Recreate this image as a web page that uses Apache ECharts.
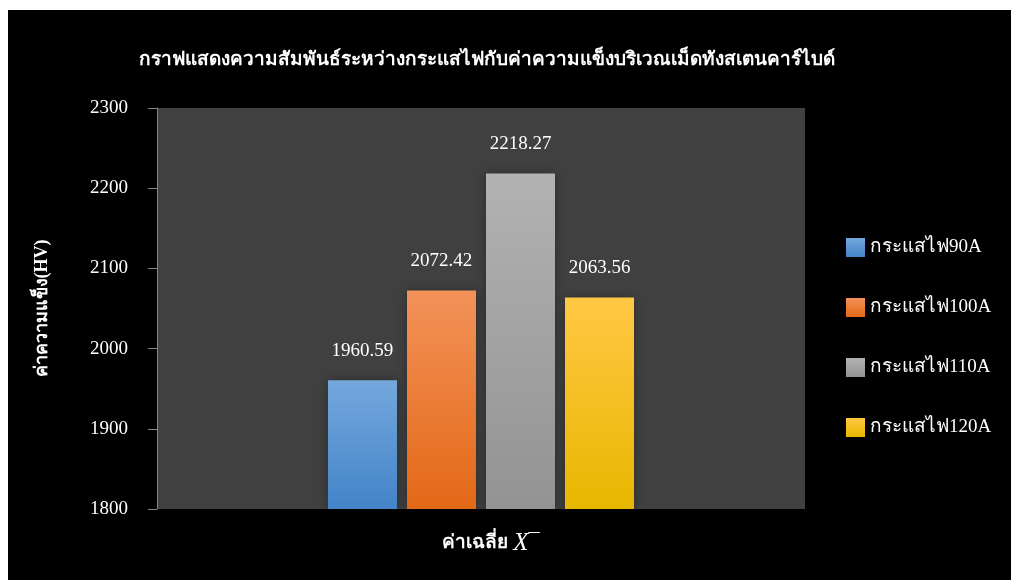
<!DOCTYPE html>
<html>
<head>
<meta charset="utf-8">
<script src="https://cdn.jsdelivr.net/npm/echarts@6/dist/echarts.min.js"></script>
<style>
  html, body { margin: 0; padding: 0; background: #ffffff; }
  #chart { position: absolute; left: 8px; top: 10px; width: 1003px; height: 570px; }
</style>
</head>
<body>
<div id="chart"></div>
<script>
// Average hardness of tungsten carbide grains at each welding current
const categories = ['avg'];
const seriesNames = ['กระแสไฟ90A', 'กระแสไฟ100A', 'กระแสไฟ110A', 'กระแสไฟ120A'];
const hardness = [1960.59, 2072.42, 2218.27, 2063.56];
const yTicks = { min: 1800, max: 2300, interval: 100 };

const gradients = [
  ['#74a8dd', '#4384c8'],
  ['#f39259', '#e36816'],
  ['#b2b2b2', '#939393'],
  ['#ffc844', '#e8b700']
];
const serif = "'Times New Roman', 'Liberation Serif', 'DejaVu Serif', serif";

function grad(c) {
  return new echarts.graphic.LinearGradient(0, 0, 0, 1, [
    { offset: 0, color: c[0] },
    { offset: 1, color: c[1] }
  ]);
}

const series = seriesNames.map((name, i) => ({
  name: name,
  type: 'bar',
  data: [hardness[i]],
  barWidth: 69,
  barGap: '14.5%',
  itemStyle: {
    color: grad(gradients[i]),
    shadowBlur: 10,
    shadowColor: 'rgba(0,0,0,0.35)'
  },
  label: {
    show: true,
    position: 'top',
    distance: 20,
    color: '#ffffff',
    fontFamily: serif,
    fontSize: 19,
    formatter: (p) => p.value.toFixed(2)
  }
}));

const chart = echarts.init(document.getElementById('chart'));
chart.setOption({
  backgroundColor: '#000000',
  animation: false,
  title: {
    text: 'กราฟแสดงความสัมพันธ์ระหว่างกระแสไฟกับค่าความแข็งบริเวณเม็ดทังสเตนคาร์ไบด์',
    left: 474,
    textAlign: 'center',
    top: 36,
    textStyle: { color: '#ffffff', fontFamily: serif, fontWeight: 'bold', fontSize: 19 }
  },
  legend: {
    orient: 'vertical',
    left: 833,
    top: 223,
    itemWidth: 19,
    itemHeight: 19,
    itemGap: 41,
    icon: 'rect',
    textStyle: { color: '#ffffff', fontFamily: serif, fontSize: 19, padding: [0, 0, 0, 0] },
    data: seriesNames
  },
  grid: {
    left: 149, right: 206, top: 98, bottom: 71,
    show: true, backgroundColor: '#404040', borderWidth: 0
  },
  xAxis: {
    type: 'category',
    data: categories,
    axisLine: { show: false },
    axisTick: { show: false },
    axisLabel: {
      margin: 22,
      formatter: () => '{t|ค่าเฉลี่ย }{x|X}{b|¯}',
      rich: {
        t: { color: '#ffffff', fontFamily: serif, fontWeight: 'bold', fontSize: 19, padding: [0, 0, 0, 20] },
        x: { color: '#ffffff', fontFamily: serif, fontStyle: 'italic', fontSize: 25 },
        b: { color: '#ffffff', fontFamily: serif, fontSize: 22, verticalAlign: 'top' }
      }
    }
  },
  yAxis: {
    type: 'value',
    min: yTicks.min,
    max: yTicks.max,
    interval: yTicks.interval,
    name: 'ค่าความแข็ง(HV)',
    nameLocation: 'middle',
    nameGap: 106,
    nameTextStyle: { color: '#ffffff', fontFamily: serif, fontWeight: 'bold', fontSize: 18 },
    axisLine: { show: true, lineStyle: { color: '#868686', width: 1 } },
    axisTick: { show: true, length: 9, lineStyle: { color: '#868686' } },
    splitLine: { show: false },
    axisLabel: {
      color: '#ffffff', fontFamily: serif, fontSize: 19, margin: 29,
      formatter: (v) => String(v)
    }
  },
  series: series
});
</script>
</body>
</html>
